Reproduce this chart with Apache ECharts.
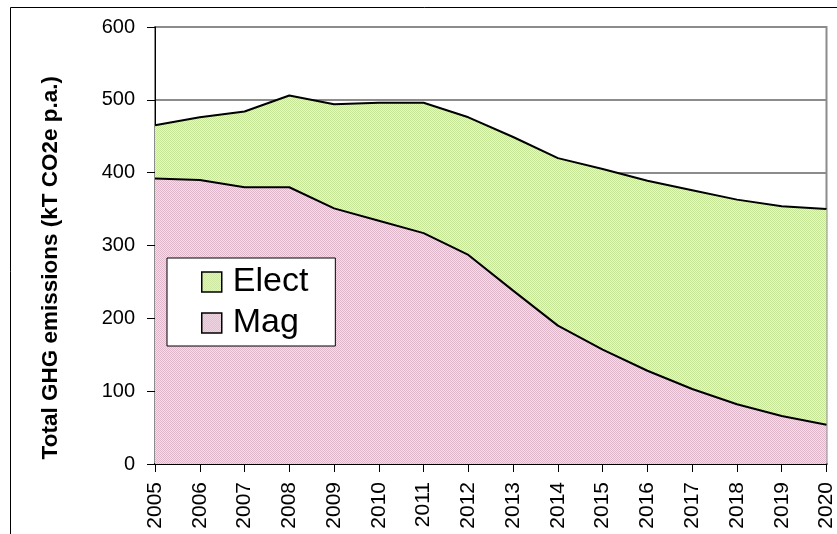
<!DOCTYPE html>
<html>
<head>
<meta charset="utf-8">
<script src="https://cdn.jsdelivr.net/npm/echarts@6/dist/echarts.min.js"></script>
<style>
  html, body { margin: 0; padding: 0; background: #fff; }
  #chart { width: 837px; height: 534px; }
</style>
</head>
<body>
<div id="chart"></div>
<script>
// 年份
const years = ['2005', '2006', '2007', '2008', '2009', '2010', '2011', '2012',
               '2013', '2014', '2015', '2016', '2017', '2018', '2019', '2020'];
// Mag 排放 (底层)
const magValues = [392, 390, 380, 380, 351, 334, 317, 287, 238, 190, 157, 128, 103, 82, 66, 54];
// Elect 排放 (叠加在 Mag 之上)
const electValues = [73, 86, 104, 126, 143, 162, 179, 189, 211, 230, 248, 261, 273, 281, 288, 296];
// y轴刻度
const yTicks = [0, 100, 200, 300, 400, 500, 600];

// 小点状填充图案
function makePattern(c1, c2) {
    const cv = document.createElement('canvas');
    cv.width = 2;
    cv.height = 2;
    const ctx = cv.getContext('2d');
    ctx.fillStyle = c2;
    ctx.fillRect(0, 0, 2, 2);
    ctx.fillStyle = c1;
    ctx.fillRect(0, 0, 1, 1);
    ctx.fillRect(1, 1, 1, 1);
    return { image: cv, repeat: 'repeat' };
}

const greenFill = makePattern('#c6e596', '#eaf6cf');
const pinkFill = makePattern('#dfb7cb', '#f3dee9');

const chart = echarts.init(document.getElementById('chart'));

const option = {
    animation: false,
    grid: {
        left: 155,
        right: 10,
        top: 27,
        bottom: 70,
        show: true,
        borderColor: '#8c8c8c',
        borderWidth: 2,
        backgroundColor: 'transparent'
    },
    legend: {
        orient: 'vertical',
        left: 167,
        top: 258,
        padding: [6, 27, 5, 34],
        itemWidth: 20,
        itemHeight: 20,
        itemGap: 5,
        backgroundColor: '#fff',
        borderColor: '#000',
        borderWidth: 1,
        textStyle: {
            fontFamily: 'Liberation Sans, Arial',
            fontSize: 34,
            lineHeight: 36,
            color: '#000',
            padding: [0, 0, 0, 6]
        },
        data: [
            { name: 'Elect', icon: 'rect', itemStyle: { color: greenFill, borderColor: '#000', borderWidth: 1.5 } },
            { name: 'Mag', icon: 'rect', itemStyle: { color: pinkFill, borderColor: '#000', borderWidth: 1.5 } }
        ]
    },
    xAxis: {
        type: 'category',
        data: years,
        boundaryGap: false,
        axisLine: { lineStyle: { color: '#000', width: 2 } },
        axisTick: { show: true, length: 8, inside: false, lineStyle: { color: '#000' } },
        axisLabel: {
            rotate: 90,
            margin: 18,
            interval: 0,
            fontFamily: 'Liberation Sans, Arial',
            fontSize: 21,
            color: '#000'
        },
        splitLine: { show: false }
    },
    yAxis: {
        type: 'value',
        min: yTicks[0],
        max: yTicks[yTicks.length - 1],
        interval: 100,
        axisLine: { show: true, lineStyle: { color: '#000', width: 1 } },
        axisTick: { show: true, length: 8, lineStyle: { color: '#000' } },
        axisLabel: {
            margin: 20,
            fontFamily: 'Liberation Sans, Arial',
            fontSize: 20,
            color: '#000'
        },
        splitLine: { show: true, lineStyle: { color: '#8c8c8c', width: 2 } }
    },
    graphic: [
        {
            type: 'rect',
            silent: true,
            shape: { x: 10.5, y: 7.5, width: 900, height: 700 },
            style: { fill: 'none', stroke: '#000', lineWidth: 1 }
        },
        {
            type: 'text',
            silent: true,
            left: 39,
            top: 76,
            style: {
                text: 'Total GHG emissions (kT CO2e p.a.)',
                fontFamily: 'Liberation Sans, Arial',
                fontWeight: 'bold',
                fontSize: 22.5,
                fill: '#000'
            },
            rotation: Math.PI / 2
        }
    ],
    series: [
        {
            name: 'Mag',
            type: 'line',
            stack: 'total',
            data: magValues,
            symbol: 'none',
            lineStyle: { color: '#000', width: 2 },
            itemStyle: { color: pinkFill },
            areaStyle: { color: pinkFill, opacity: 1 }
        },
        {
            name: 'Elect',
            type: 'line',
            stack: 'total',
            data: electValues,
            symbol: 'none',
            lineStyle: { color: '#000', width: 2 },
            itemStyle: { color: greenFill },
            areaStyle: { color: greenFill, opacity: 1 }
        }
    ]
};

chart.setOption(option);
</script>
</body>
</html>
